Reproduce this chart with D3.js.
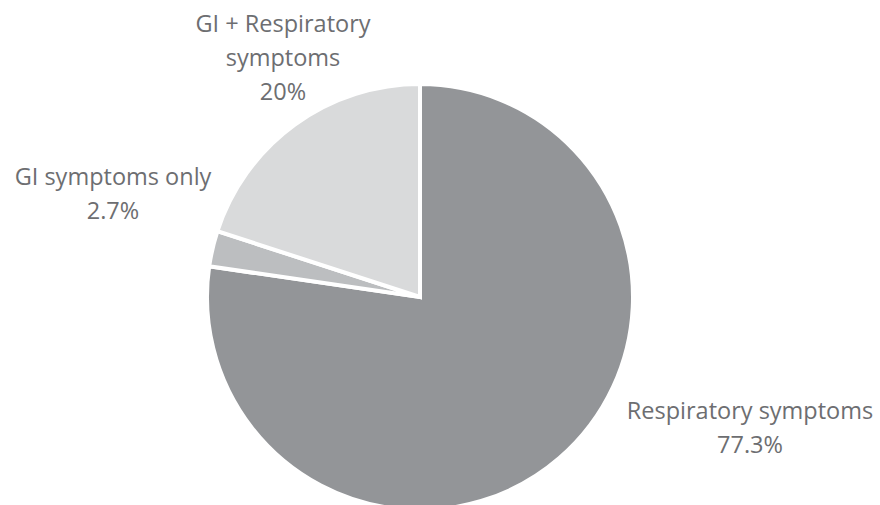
<!DOCTYPE html>
<html>
<head>
<meta charset="utf-8">
<script src="https://cdn.jsdelivr.net/npm/d3@7"></script>
<style>
  body { margin: 0; background: #fff; }
</style>
</head>
<body>
<div id="chart"></div>
<script>
const categories = ['Respiratory symptoms', 'GI symptoms only', 'GI + Respiratory symptoms'];
const values = [77.3, 2.7, 20];
const valueLabels = ['77.3%', '2.7%', '20%'];
const labelLines = [['Respiratory symptoms', '77.3%'], ['GI symptoms only', '2.7%'], ['GI + Respiratory', 'symptoms', '20%']];
const colors = ['#939598', '#bcbec0', '#d9dadb'];

const WIDTH = 880;
const HEIGHT = 505;
const CX = 420;
const CY = 297;
const RADIUS = 213;
const LINE_HEIGHT = 34;

// label anchor points (centre x, first baseline y)
const labelPos = [[750, 419], [113, 185], [283, 32]];

const svg = d3.select('#chart')
  .append('svg')
  .attr('width', WIDTH)
  .attr('height', HEIGHT);

const pie = d3.pie().sort(null).value((d) => d);
const arc = d3.arc().innerRadius(0).outerRadius(RADIUS);

const g = svg.append('g').attr('transform', `translate(${CX},${CY})`);

g.selectAll('path')
  .data(pie(values))
  .join('path')
  .attr('d', arc)
  .attr('fill', (d, i) => colors[i])
  .attr('stroke', '#fff')
  .attr('stroke-width', 4)
  .attr('stroke-linejoin', 'miter');

const labels = svg.selectAll('text.label')
  .data(labelLines)
  .join('text')
  .attr('class', 'label')
  .attr('text-anchor', 'middle')
  .attr('font-family', '"Open Sans", sans-serif')
  .attr('font-size', '23.5px')
  .attr('fill', '#6d6e71');

labels.each(function (lines, i) {
  d3.select(this)
    .selectAll('tspan')
    .data(lines)
    .join('tspan')
    .attr('x', labelPos[i][0])
    .attr('y', (d, j) => labelPos[i][1] + j * LINE_HEIGHT)
    .text((d) => d);
});
</script>
</body>
</html>
